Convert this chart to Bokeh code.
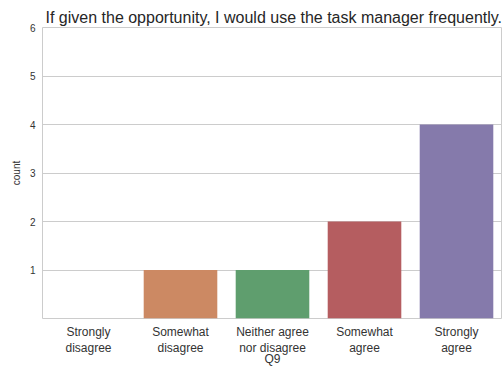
from bokeh.plotting import figure
from bokeh.models import FactorRange, FixedTicker, ColumnDataSource
from bokeh.embed import file_html
from bokeh.resources import INLINE

categories = ["Strongly\ndisagree", "Somewhat\ndisagree", "Neither agree\nnor disagree", "Somewhat\nagree", "Strongly\nagree"]
counts = [0, 1, 1, 2, 4]
colors = ["#5975a4", "#cc8963", "#5f9e6e", "#b55d60", "#857aab"]
y_ticks = [1, 2, 3, 4, 5, 6]
x_label = "Q9"

src = ColumnDataSource(dict(cat=categories, count=counts, color=colors))

p = figure(width=502, height=369, output_backend="svg", toolbar_location=None,
           x_range=FactorRange(*categories, range_padding=0), y_range=(0, 6),
           min_border_left=42, min_border_right=0, min_border_top=27, min_border_bottom=50,
           title="If given the opportunity, I would use the task manager frequently.")
p.vbar(x="cat", top="count", width=0.8, color="color", source=src, line_color=None)

p.title.text_font = "Liberation Sans"
p.title.text_font_size = "16px"
p.title.text_font_style = "normal"
p.title.text_color = "#262626"
p.title.text_line_height = 0.9
p.title.offset = 3
p.title.standoff = 3

p.outline_line_color = "#cccccc"
p.outline_line_width = 1
p.background_fill_color = "white"
p.border_fill_color = "white"

p.xgrid.grid_line_color = None
p.ygrid.grid_line_color = "#cccccc"
p.yaxis.ticker = FixedTicker(ticks=y_ticks)

for ax in (p.xaxis, p.yaxis):
    ax.axis_line_color = None
    ax.major_tick_line_color = None
    ax.minor_tick_line_color = None
    ax.major_tick_out = 0
    ax.major_tick_in = 0
    ax.minor_tick_out = 0
    ax.minor_tick_in = 0
    ax.major_label_text_font = "Liberation Sans"
    ax.major_label_text_color = "#333333"
    ax.axis_label_text_font = "Liberation Sans"
    ax.axis_label_text_font_style = "normal"
    ax.axis_label_text_color = "#333333"

p.yaxis.major_label_text_font_size = "10px"
p.yaxis.major_label_standoff = 7
p.yaxis.axis_label = "count"
p.yaxis.axis_label_text_font_size = "10px"
p.yaxis.axis_label_standoff = 5

p.xaxis.major_label_text_font_size = "12px"
p.xaxis.major_label_text_line_height = 1.2
p.xaxis.major_label_standoff = 6
p.xaxis.axis_label = x_label
p.xaxis.axis_label_text_font_size = "12px"
p.xaxis.axis_label_standoff = -6

open("out.html", "w").write(file_html(p, INLINE))
